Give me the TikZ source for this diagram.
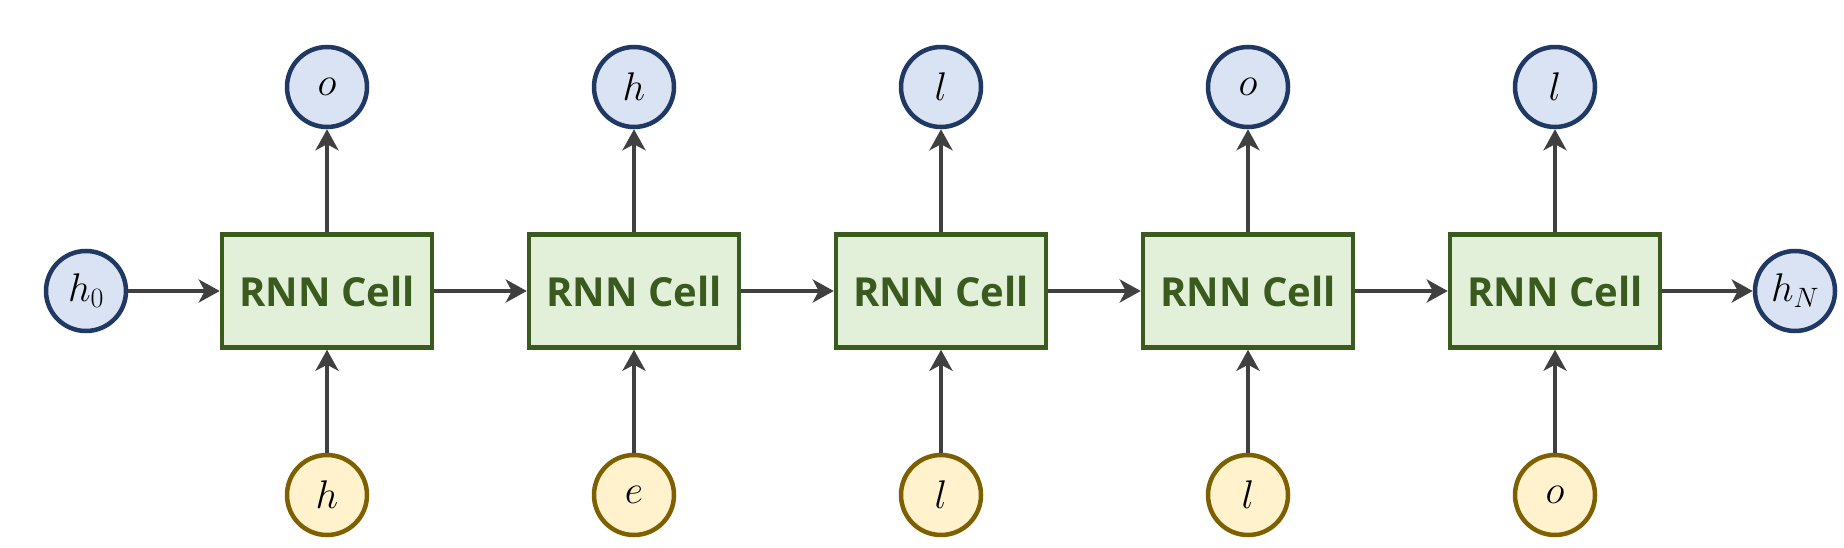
\RequirePackage{fix-cm}
\documentclass[tikz,border=0pt]{standalone}
\usepackage{fontspec}
\newfontfamily\cellfont{Open Sans}
\usetikzlibrary{arrows.meta}
\DeclareMathSizes{40}{40}{28}{20}
\definecolor{cellgreen}{HTML}{E2F0D9}
\definecolor{celldark}{HTML}{3A5A1E}
\definecolor{outblue}{HTML}{DAE3F3}
\definecolor{outnavy}{HTML}{203864}
\definecolor{ingold}{HTML}{FFF2CC}
\definecolor{inbrown}{HTML}{7F6000}
\definecolor{linkgray}{HTML}{404040}

\begin{document}
\begin{tikzpicture}[x=1pt,y=-1pt,
	cell/.style={draw=celldark, fill=cellgreen, line width=4.5pt, minimum width=210pt, minimum height=113pt, text=celldark, font=\cellfont\bfseries\fontsize{40}{40}\selectfont},
	outnode/.style={circle, draw=outnavy, fill=outblue, line width=4.5pt, minimum size=80pt, inner sep=0pt, font=\fontsize{40}{40}\selectfont},
	innode/.style={outnode, draw=inbrown, fill=ingold},
	link/.style={draw=linkgray, line width=4pt, -{Stealth[length=21pt,width=23pt,inset=6pt]}}]
	\useasboundingbox (0,0) rectangle (1844,548);
	% cells
	\node[cell] (c1) at (327,291) {RNN Cell};
	\node[cell] (c2) at (634,291) {RNN Cell};
	\node[cell] (c3) at (941,291) {RNN Cell};
	\node[cell] (c4) at (1248,291) {RNN Cell};
	\node[cell] (c5) at (1555,291) {RNN Cell};
	% hidden states
	\node[outnode] (h0) at (86,291) {$h_0$};
	\node[outnode] (hN) at (1795,291) {$h_N$};
	% outputs
	\node[outnode] (o1) at (327,87) {$o$};
	\node[outnode] (o2) at (634,87) {$h$};
	\node[outnode] (o3) at (941,87) {$l$};
	\node[outnode] (o4) at (1248,87) {$o$};
	\node[outnode] (o5) at (1555,87) {$l$};
	% inputs
	\node[innode] (x1) at (327,495) {$h$};
	\node[innode] (x2) at (634,495) {$e$};
	\node[innode] (x3) at (941,495) {$l$};
	\node[innode] (x4) at (1248,495) {$l$};
	\node[innode] (x5) at (1555,495) {$o$};
	% links
	\draw[link] (h0)--(c1);
	\draw[link] (c1)--(c2);
	\draw[link] (c2)--(c3);
	\draw[link] (c3)--(c4);
	\draw[link] (c4)--(c5);
	\draw[link] (c5)--(hN);
	\draw[link] (c1)--(o1);
	\draw[link] (c2)--(o2);
	\draw[link] (c3)--(o3);
	\draw[link] (c4)--(o4);
	\draw[link] (c5)--(o5);
	\draw[link] (x1)--(c1);
	\draw[link] (x2)--(c2);
	\draw[link] (x3)--(c3);
	\draw[link] (x4)--(c4);
	\draw[link] (x5)--(c5);
\end{tikzpicture}
\end{document}
